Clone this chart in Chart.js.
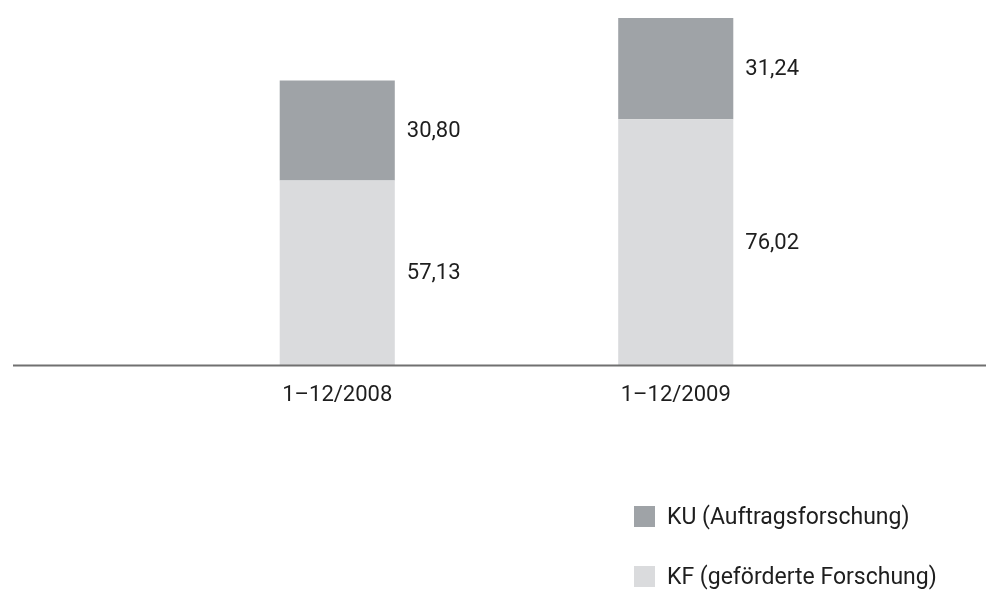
<!DOCTYPE html>
<html>
<head>
<meta charset="utf-8">
<script src="https://cdn.jsdelivr.net/npm/chart.js@4/dist/chart.umd.min.js"></script>
<style>
  html, body { margin: 0; padding: 0; background: #ffffff; }
  #wrap { position: relative; width: 986px; height: 590px; }
  #legend { position: absolute; left: 634px; top: 496px; font-family: Roboto, "Noto Sans", sans-serif; font-size: 23px; color: #1e1e1e; }
  .item { display: flex; align-items: center; height: 41px; margin-bottom: 19px; }
  .sw { width: 21px; height: 21px; margin-right: 12px; flex: none; }
</style>
</head>
<body>
<div id="wrap">
  <canvas id="c" width="986" height="590"></canvas>
  <div id="legend"></div>
</div>
<script>
const categories = ['1–12/2008', '1–12/2009'];
const kfValues = [57.13, 76.02];   // KF (geförderte Forschung)
const kuValues = [30.80, 31.24];   // KU (Auftragsforschung)
const seriesNames = ['KF (geförderte Forschung)', 'KU (Auftragsforschung)'];
const seriesColors = ['#dadbdd', '#9fa3a7'];

const fontFamily = 'Roboto, "Noto Sans", sans-serif';
const textColor = '#1e1e1e';

const baselinePlugin = {
  id: 'baseline',
  afterDatasetsDraw(chart) {
    const ctx = chart.ctx;
    const y = chart.scales.y.getPixelForValue(0);
    ctx.save();
    ctx.strokeStyle = '#707070';
    ctx.lineWidth = 2;
    ctx.beginPath();
    ctx.moveTo(13, y);
    ctx.lineTo(chart.width, y);
    ctx.stroke();
    ctx.restore();
  }
};

const valueLabelPlugin = {
  id: 'valueLabels',
  afterDatasetsDraw(chart) {
    const ctx = chart.ctx;
    ctx.save();
    ctx.font = '22px ' + fontFamily;
    ctx.fillStyle = textColor;
    ctx.textAlign = 'left';
    ctx.textBaseline = 'middle';
    chart.data.datasets.forEach((ds, di) => {
      const meta = chart.getDatasetMeta(di);
      meta.data.forEach((bar, i) => {
        const v = ds.data[i];
        const txt = v.toFixed(2).replace('.', ',');
        const cy = (bar.y + bar.base) / 2 + 1;
        ctx.fillText(txt, bar.x + bar.width / 2 + 12, cy);
      });
    });
    ctx.restore();
  }
};

const chart = new Chart(document.getElementById('c'), {
  type: 'bar',
  data: {
    labels: categories,
    datasets: [
      { label: seriesNames[0], data: kfValues, backgroundColor: seriesColors[0], borderWidth: 0 },
      { label: seriesNames[1], data: kuValues, backgroundColor: seriesColors[1], borderWidth: 0 }
    ]
  },
  options: {
    responsive: false,
    animation: false,
    layout: { padding: { top: 9, left: 168, right: 141, bottom: 164 } },
    datasets: { bar: { categoryPercentage: 1, barPercentage: 0.34 } },
    plugins: { legend: { display: false }, tooltip: { enabled: false } },
    scales: {
      x: {
        stacked: true,
        grid: { display: false, drawTicks: false },
        border: { display: false },
        ticks: { color: textColor, font: { family: fontFamily, size: 22 }, padding: 17, maxRotation: 0 }
      },
      y: {
        stacked: true,
        display: false,
        min: 0,
        max: 110
      }
    }
  },
  plugins: [baselinePlugin, valueLabelPlugin]
});

// legend (top item = upper stack segment)
const legend = document.getElementById('legend');
[1, 0].forEach(i => {
  const it = document.createElement('div');
  it.className = 'item';
  const sw = document.createElement('span');
  sw.className = 'sw';
  sw.style.background = seriesColors[i];
  const tx = document.createElement('span');
  tx.textContent = seriesNames[i];
  it.appendChild(sw);
  it.appendChild(tx);
  legend.appendChild(it);
});
</script>
</body>
</html>
